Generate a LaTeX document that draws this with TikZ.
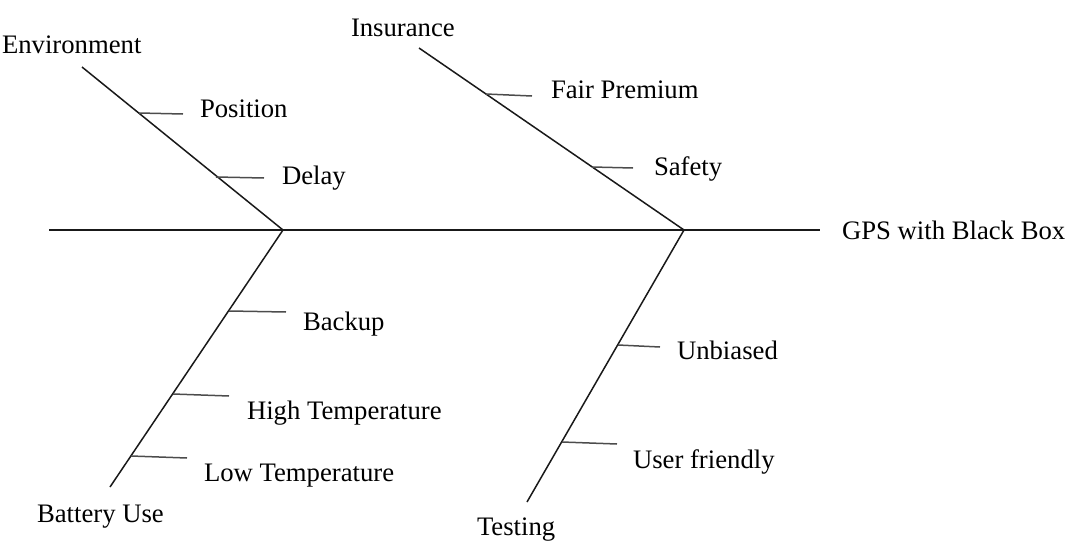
\documentclass[tikz,border=0pt]{standalone}
\usepackage{fontspec}
\setmainfont{Liberation Serif}
\begin{document}
\begin{tikzpicture}[x=1pt,y=-1pt,
  lbl/.style={anchor=base west,inner sep=0pt,outer sep=0pt,font=\fontsize{26.7}{30}\selectfont},
  bone/.style={line width=1.5pt,draw=black!90},
  tick/.style={line width=1.5pt,draw=black!70}]
\useasboundingbox (0,0) rectangle (1074,557);
% spine and branches
\coordinate (spineL) at (49,230);
\coordinate (spineR) at (820,230);
\coordinate (j1) at (283,230);
\coordinate (j2) at (684,230);
\coordinate (envTop) at (82,67);
\coordinate (insTop) at (419,48);
\coordinate (batBot) at (110,487);
\coordinate (tstBot) at (527,502);
% tick coordinates
\coordinate (posA) at (139,113); \coordinate (posB) at (183,114);
\coordinate (delA) at (216,177); \coordinate (delB) at (264,178);
\coordinate (fpA) at (486,94);   \coordinate (fpB) at (532,96);
\coordinate (safA) at (592,167); \coordinate (safB) at (633,168);
\coordinate (bkA) at (229,311);  \coordinate (bkB) at (286,312);
\coordinate (hiA) at (173,394);  \coordinate (hiB) at (229,396);
\coordinate (loA) at (131,456);  \coordinate (loB) at (187,458);
\coordinate (unA) at (618,345);  \coordinate (unB) at (660,347);
\coordinate (ufA) at (562,442);  \coordinate (ufB) at (617,444);
% labels
\node[lbl] (env) at (2,53) {Environment};
\node[lbl] (pos) at (200,117) {Position};
\node[lbl] (del) at (282,184) {Delay};
\node[lbl] (ins) at (351,36) {Insurance};
\node[lbl] (fp) at (551,98) {Fair Premium};
\node[lbl] (saf) at (654,175) {Safety};
\node[lbl] (gps) at (842,239) {GPS with Black Box};
\node[lbl] (bk) at (303,330) {Backup};
\node[lbl] (hi) at (247,419) {High Temperature};
\node[lbl] (lo) at (204,481) {Low Temperature};
\node[lbl] (bat) at (37,522) {Battery Use};
\node[lbl] (un) at (677,359) {Unbiased};
\node[lbl] (uf) at (633,468) {User friendly};
\node[lbl] (tst) at (477,535) {Testing};
% lines
\draw[bone] (spineL) -- (spineR);
\draw[bone] (envTop) -- (j1);
\draw[bone] (insTop) -- (j2);
\draw[bone] (j1) -- (batBot);
\draw[bone] (j2) -- (tstBot);
\foreach \a/\b in {posA/posB,delA/delB,fpA/fpB,safA/safB,bkA/bkB,hiA/hiB,loA/loB,unA/unB,ufA/ufB}
  \draw[tick] (\a) -- (\b);
\end{tikzpicture}
\end{document}
